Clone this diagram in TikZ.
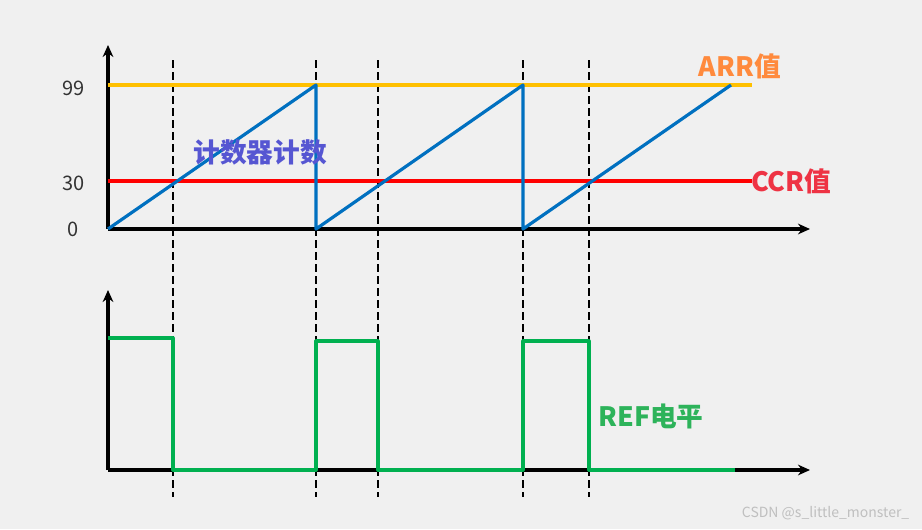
\documentclass[tikz,border=0pt]{standalone}
\usepackage{fontspec}
\usepackage{xcolor}
\usetikzlibrary{arrows.meta}
\setmainfont{Noto Sans CJK SC}
\definecolor{pwmBg}{HTML}{F0F0F0}
\definecolor{pwmBlue}{HTML}{0070C0}
\definecolor{pwmOrange}{HTML}{FFC000}
\definecolor{pwmRed}{HTML}{FF0000}
\definecolor{pwmGreen}{HTML}{00B050}
\definecolor{pwmPurple}{HTML}{5656D2}
\definecolor{pwmArr}{HTML}{FF8A3D}
\definecolor{pwmCcr}{HTML}{EE3344}
\definecolor{pwmRef}{HTML}{2DB35A}

\begin{document}
\begin{tikzpicture}[x=0.75pt, y=-0.75pt,
  axis/.style={line width=2.3pt, -{Stealth[length=9pt,width=8pt]}},
  sigline/.style={draw=#1, line width=2.4pt, line join=round},
  guide/.style={line width=1.7pt, dash pattern=on 6pt off 3pt},
  num/.style={font=\fontsize{15}{17}\selectfont, text=black!80, anchor=east},
  tag/.style={font=\bfseries\fontsize{20}{22}\selectfont}]
\fill[pwmBg] (0,0) rectangle (922,529);
\useasboundingbox (0,0) rectangle (922,529);

% axes
\coordinate (o1) at (108,229);
\coordinate (y1) at (108,45);
\coordinate (x1) at (810,229);
\coordinate (o2) at (108,470);
\coordinate (y2) at (108,290);
\coordinate (x2) at (810,470);
\draw[axis] (o1) -- (y1);
\draw[axis] (o1) -- (x1);
\draw[axis] (o2) -- (y2);
\draw[axis] (o2) -- (x2);

% compare instants
\foreach \t in {173,316,378,523,589}
  \draw[guide] (\t,60) -- (\t,497);

% ARR and CCR levels
\draw[sigline=pwmOrange] (108,85) -- (752,85);
\draw[sigline=pwmRed] (108,181) -- (752,181);

% counter
\draw[sigline=pwmBlue] (108,229) -- (316,85) -- (316,229) -- (523,85) -- (523,229) -- (731,85);

% REF output
\draw[sigline=pwmGreen] (108,338) -- (173,338) -- (173,470) -- (316,470) -- (316,341) -- (378,341)
  -- (378,470) -- (523,470) -- (523,341) -- (589,341) -- (589,470) -- (735,470);

\node[num] (v99) at (89,88) {99};
\node[num] (v30) at (89,183) {30};
\node[num] (v0) at (83,229) {0};

\node[tag, text=pwmPurple] (cnt) at (260,152) {计数器计数};
\node[tag, text=pwmArr] (arr) at (740,66) {ARR值};
\node[tag, text=pwmCcr] (ccr) at (791,181) {CCR值};
\node[tag, text=pwmRef] (ref) at (651,416) {REF电平};

\node[font=\fontsize{10.5}{12}\selectfont, text=black!25, anchor=east] (mark) at (914,513) {CSDN @s\_little\_monster\_};
\end{tikzpicture}
\end{document}
